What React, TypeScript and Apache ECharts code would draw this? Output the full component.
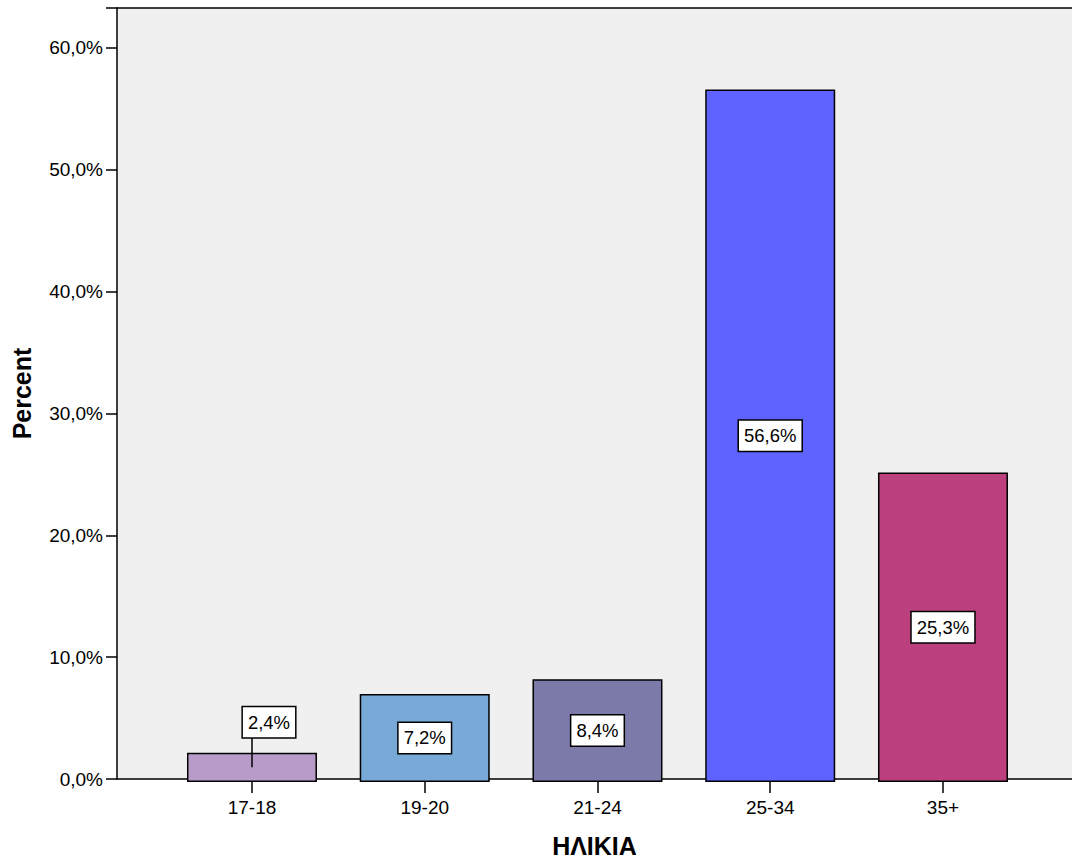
import React, { useEffect, useRef } from "react";
import * as echarts from "echarts";

const categories = ["17-18", "19-20", "21-24", "25-34", "35+"];
const percents = [2.4, 7.2, 8.4, 56.6, 25.3];
const barColors = ["#b99bc9", "#79a9d6", "#7b7aa9", "#5e62fe", "#bb407d"];
const yTicks = [0, 10, 20, 30, 40, 50, 60];

const FONT = "'Liberation Sans', Arial, sans-serif";
const fmt = (v: number) => v.toFixed(1).replace(".", ",") + "%";

export default function App() {
  const ref = useRef<HTMLDivElement>(null);
  useEffect(() => {
    if (!ref.current) return;
    const chart = echarts.init(ref.current, undefined, { renderer: "svg" });
    const yMax = 63.27;
    const leaderTop = 3.6; // where the leader line of the small bar's label meets the label box
    chart.setOption({
      animation: false,
      textStyle: { fontFamily: FONT },
      grid: [
        { left: 117, top: 8, width: 966, height: 774, show: true, backgroundColor: "#f0f0f0", borderWidth: 0 },
        { left: 165.6, top: 8, width: 863.75, height: 774 },
      ],
      xAxis: [
        {
          gridIndex: 0, type: "value", min: 0, max: 1, position: "bottom",
          axisLine: { show: true, lineStyle: { color: "#000", width: 1.5 } },
          axisTick: { show: false }, axisLabel: { show: false }, splitLine: { show: false },
          name: "ΗΛΙΚΙΑ", nameLocation: "middle", nameGap: 54,
          nameTextStyle: { fontSize: 25, fontWeight: "bold", color: "#000", fontFamily: FONT },
        },
        {
          gridIndex: 0, type: "value", min: 0, max: 1, position: "top",
          axisLine: { show: true, lineStyle: { color: "#000", width: 1.5 } },
          axisTick: { show: false }, axisLabel: { show: false }, splitLine: { show: false },
        },
        {
          gridIndex: 1, type: "category", data: categories,
          axisLine: { show: false },
          axisTick: { show: true, alignWithLabel: true, length: 11, lineStyle: { color: "#000", width: 1.5 } },
          axisLabel: { fontSize: 19, color: "#000", margin: 16, fontFamily: FONT },
        },
      ],
      yAxis: [
        {
          gridIndex: 0, type: "value", min: 0, max: yMax, interval: 10,
          axisLine: { show: true, lineStyle: { color: "#000", width: 1.5 } },
          axisTick: { show: true, length: 11, lineStyle: { color: "#000", width: 1.5 } },
          axisLabel: {
            fontSize: 19, color: "#000", margin: 14, fontFamily: FONT,
            formatter: (v: number) => (yTicks.includes(Math.round(v)) ? fmt(v) : ""),
          },
          splitLine: { show: false },
          name: "Percent", nameLocation: "middle", nameGap: 83, nameRotate: 90,
          nameTextStyle: { fontSize: 25, fontWeight: "bold", color: "#000", fontFamily: FONT },
        },
        { gridIndex: 1, type: "value", min: 0, max: yMax, show: false },
      ],
      series: [
        {
          type: "bar",
          xAxisIndex: 2,
          yAxisIndex: 1,
          barWidth: 130,
          data: percents.map((v, i) => ({
            value: v,
            itemStyle: { color: barColors[i], borderColor: "#000", borderWidth: 1.5 },
          })),
          label: {
            show: true,
            position: "inside",
            formatter: (p: any) => fmt(p.value),
            fontSize: 18.5,
            color: "#000",
            fontFamily: FONT,
            backgroundColor: "#fff",
            borderColor: "#000",
            borderWidth: 1.5,
            padding: [6, 5, 5, 5],
          },
          labelLayout: (p: any) => (p.dataIndex === 0 ? { dx: 17, dy: -45 } : {}),
          markLine: {
            silent: true,
            symbol: "none",
            label: { show: false },
            lineStyle: { color: "#000", width: 1.5, type: "solid" },
            data: [[{ coord: [categories[0], percents[0] / 2] }, { coord: [categories[0], leaderTop] }]],
          },
        },
      ],
    });
    return () => chart.dispose();
  }, []);
  return <div ref={ref} style={{ position: "absolute", left: 0, top: 0, width: 1072, height: 863 }} />;
}
